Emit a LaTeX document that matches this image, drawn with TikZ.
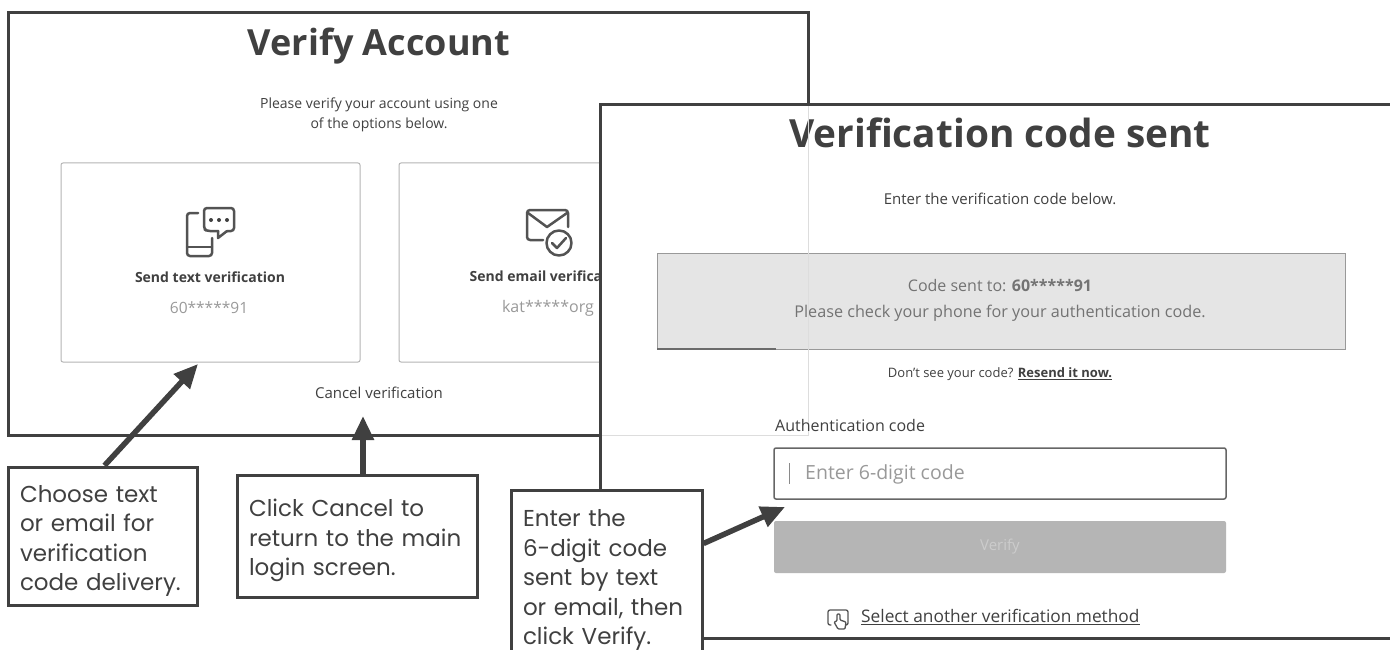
\documentclass[tikz,border=0pt]{standalone}
\usepackage{fontspec}
\setmainfont{Open Sans}
\newfontfamily\notefont{Poppins}
\usetikzlibrary{arrows.meta}
\definecolor{inkgray}{HTML}{404040}
\definecolor{cardgray}{HTML}{B4B4B4}
\definecolor{softgray}{HTML}{999999}
\definecolor{ghostgray}{HTML}{DDDDDD}
\tikzset{
  panel/.style={draw=inkgray,line width=3pt,fill=white},
  card/.style={draw=cardgray,line width=1pt,rounded corners=2pt},
  label/.style={inner sep=0pt,text=inkgray},
  notebox/.style={draw=inkgray,line width=3pt,fill=white,inner sep=0pt,align=left,
    font=\notefont\fontsize{23}{29.5}\selectfont,text=inkgray},
  pointer/.style={draw=inkgray,line width=5.5pt,-{Triangle[length=24pt,width=21pt]}},
  icon/.style={draw=inkgray!90,line width=2.5pt,line join=round,line cap=round,rounded corners=3pt},
}
\newcommand{\fs}[1]{\fontsize{#1}{#1}\selectfont}
\newcommand{\notepad}{\rule{0pt}{27pt}}
\begin{document}
\begin{tikzpicture}[x=1pt,y=-1pt]
  \useasboundingbox (0,0) rectangle (1390,650);
  \clip (0,0) rectangle (1390,650);
  \fill[white] (0,0) rectangle (1390,650);
  % left screen
  \draw[panel] (8,13) rectangle (808,435);
  \node[label,font=\bfseries\fs{36}] (verifytitle) at (379,46) {Verify Account};
  \node[label,align=center,font=\fontsize{14}{20}\selectfont] (verifyintro) at (379,115)
    {Please verify your account using one\\of the options below.};
  \draw[card] (61,163) rectangle (360,362);
  \draw[card] (399,163) rectangle (700,362);
  % phone icon
  \draw[icon] (198,213) -- (187,213) -- (187,256) -- (212,256) -- (212,238);
  \draw[icon,rounded corners=0pt] (187,247) -- (212,247);
  \draw[icon] (218,231) -- (207,231) -- (204,229) -- (204,208) -- (234,208) -- (234,231) -- (227,231);
  \draw[icon,rounded corners=0pt] (227,231) -- (218,238) -- (218,231);
  \foreach \dotx in {211,219,227}
    \fill[inkgray] (\dotx,220) circle (2pt);
  % mail icon
  \draw[icon] (543,240) -- (527,240) -- (527,210) -- (568,210) -- (568,227);
  \draw[icon,rounded corners=0pt] (528,213) -- (547,227) -- (567,213);
  \draw[icon] (559,243) circle (12.5pt);
  \draw[icon,rounded corners=0pt] (552,243) -- (557,248) -- (566,238);
  \node[label,font=\bfseries\fs{14}] (textoption) at (210,277) {Send text verification};
  \node[label,font=\fs{15.5},text=softgray] (textmask) at (209,308) {60*****91};
  \node[label,font=\bfseries\fs{14}] (mailoption) at (550,276) {Send email verification};
  \node[label,font=\fs{16},text=softgray] (mailmask) at (548,308) {kat*****org};
  \node[label,font=\fs{15}] (cancellink) at (379,393) {Cancel verification};
  % right screen
  \draw[panel] (600,105) -- (1400,105) -- (1400,638.5) -- (600,638.5) -- cycle;
  \node[label,font=\bfseries\fs{38.8}] (sentitle) at (1000,133) {Verification code sent};
  \node[label,font=\fs{15}] (sentintro) at (1000,199) {Enter the verification code below.};
  \draw[fill=black!10,draw=softgray,line width=1pt] (657,253) rectangle (1345,349);
  \draw[softgray!70!black,line width=2pt] (657,349) -- (776,349);
  \node[label,font=\fs{16},text=softgray!75!black] (sentline) at (1000,286)
    {Code sent to: \textbf{60*****91}};
  \node[label,font=\fs{16.2},text=softgray!75!black] (checkline) at (1000,313)
    {Please check your phone for your authentication code.};
  \draw[ghostgray,line width=1pt] (808,106) -- (808,435) -- (602,435);
  \node[label,font=\fs{13}] (resendline) at (1000,374)
    {Don’t see your code? \textbf{\underline{Resend it now.}}};
  \node[label,anchor=west,font=\fs{16}] (authlabel) at (775,425) {Authentication code};
  \draw[draw=inkgray!80,fill=white,line width=1.5pt,rounded corners=2pt] (774,448) rectangle (1226,499);
  \draw[softgray!90!black,line width=1pt] (789,463) -- (789,484);
  \node[label,anchor=west,font=\fs{19.5},text=softgray] (codeinput) at (805,474) {Enter 6-digit code};
  \fill[black!29,rounded corners=2pt] (774,521) rectangle (1226,573);
  \node[label,font=\fs{15},text=black!20] (verifybutton) at (1000,547) {Verify};
  % hand icon
  \draw[icon,line width=1.3pt,rounded corners=2pt] (831,625) -- (828,625) -- (828,610) -- (848,610) -- (848,625) -- (846,625);
  \draw[icon,line width=1.3pt,rounded corners=1pt] (838,629) -- (834,622) -- (837,621) -- (837,614) -- (840,614) -- (840,620) -- (846,622) -- (845,629) -- cycle;
  \node[label,anchor=west,font=\fs{17.3}] (otherlink) at (861,617) {\underline{Select another verification method}};
  % callouts
  \coordinate (cardtip) at (198,364);
  \coordinate (canceltip) at (363,416);
  \coordinate (inputtip) at (785,507);
  \node[notebox,minimum width=189pt,minimum height=138pt,text width=165pt] (choosebox) at (102.5,536)
    {\notepad Choose text\\or email for\\verification\\code delivery.};
  \node[notebox,minimum width=240pt,minimum height=122pt,text width=216pt] (returnbox) at (357,536)
    {\notepad Click Cancel to\\return to the main\\login screen.};
  \node[notebox,minimum width=191pt,minimum height=170pt,text width=167pt] (enterbox) at (606.5,575)
    {\notepad Enter the\\6-digit code\\sent by text\\or email, then\\click Verify.};
  \draw[pointer] (choosebox.north) ++(2,0) -- (cardtip);
  \draw[pointer] (returnbox.north) ++(6,0) -- (canceltip);
  \draw[pointer] (enterbox.north east) ++(0,55) -- (inputtip);
\end{tikzpicture}
\end{document}
